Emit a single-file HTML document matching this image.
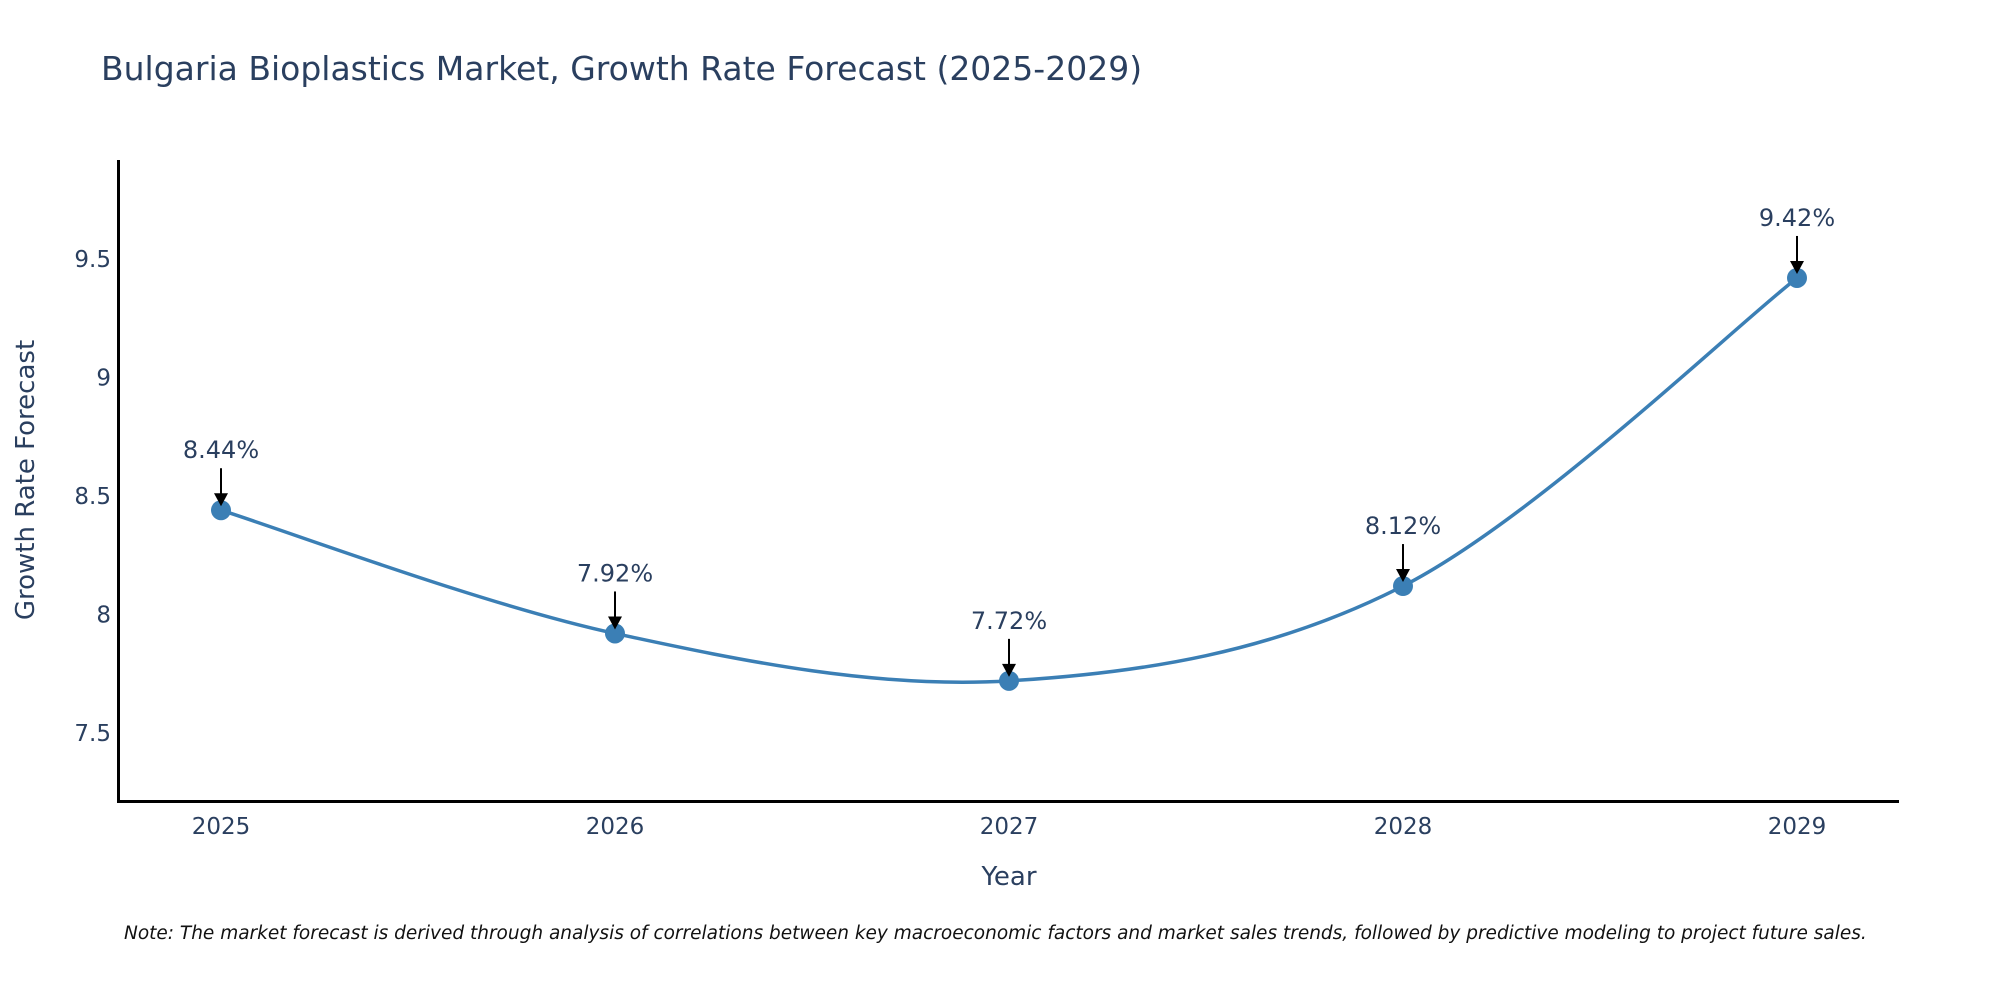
<!DOCTYPE html>
<html><head><meta charset="utf-8"><style>
body{margin:0;background:#fff;}
svg{display:block;font-family:"DejaVu Sans","Liberation Sans",sans-serif;}
</style></head><body>
<svg id="chart" width="2000" height="1000">
<text x="101" y="80" font-size="33" fill="#2a3f5f">Bulgaria Bioplastics Market, Growth Rate Forecast (2025-2029)</text>
<g id="yticks"></g><g id="xticks"></g>
<line x1="118.5" y1="160" x2="118.5" y2="802" stroke="#000" stroke-width="3"/>
<line x1="117" y1="801.5" x2="1899" y2="801.5" stroke="#000" stroke-width="3"/>
<path id="line" fill="none" stroke="#3b7fb5" stroke-width="3.5"/>
<g id="marks"></g>
<text transform="translate(34,480) rotate(-90)" text-anchor="middle" font-size="26" fill="#2a3f5f">Growth Rate Forecast</text>
<text x="1009" y="885" text-anchor="middle" font-size="26" fill="#2a3f5f">Year</text>
<text x="124" y="939" font-size="18.5" font-style="italic" fill="#111">Note: The market forecast is derived through analysis of correlations between key macroeconomic factors and market sales trends, followed by predictive modeling to project future sales.</text>
</svg>
<script>
const years=[2025,2026,2027,2028,2029];
const values=[8.44,7.92,7.72,8.12,9.42];
const labels=["8.44%","7.92%","7.72%","8.12%","9.42%"];
const yTicks=[7.5,8,8.5,9,9.5];
const yTickLabels=["7.5","8","8.5","9","9.5"];
const NS="http://www.w3.org/2000/svg";
const xs=y=>221+(y-2025)*394;
const ys=v=>733-(v-7.5)*237;
function mk(t,a,p){const e=document.createElementNS(NS,t);for(const k in a)e.setAttribute(k,a[k]);p.appendChild(e);return e;}
const yt=document.getElementById('yticks');
yTicks.forEach((v,i)=>{const t=mk('text',{x:111,y:ys(v)+8,'text-anchor':'end','font-size':23,fill:'#2a3f5f'},yt);t.textContent=yTickLabels[i];

});
const xt=document.getElementById('xticks');
years.forEach(y=>{const t=mk('text',{x:xs(y),y:834,'text-anchor':'middle','font-size':23,fill:'#2a3f5f'},xt);t.textContent=y;

});
const P=years.map((y,i)=>[xs(y),ys(values[i])]);
let d=`M${P[0][0]},${P[0][1]}`;
for(let i=0;i<P.length-1;i++){const p0=P[i-1]||P[i],p1=P[i],p2=P[i+1],p3=P[i+2]||P[i+1];
const c1=[p1[0]+(p2[0]-p0[0])/6,p1[1]+(p2[1]-p0[1])/6],c2=[p2[0]-(p3[0]-p1[0])/6,p2[1]-(p3[1]-p1[1])/6];
d+=` C${c1[0]},${c1[1]} ${c2[0]},${c2[1]} ${p2[0]},${p2[1]}`;}
document.getElementById('line').setAttribute('d',d);
const mg=document.getElementById('marks');
P.forEach((p,i)=>{
const c=mk('circle',{cx:p[0],cy:p[1],r:10,fill:'#3b7fb5'},mg);


const l=mk('line',{x1:p[0],y1:p[1]-42,x2:p[0],y2:p[1]-14,stroke:'#000','stroke-width':2},mg);


const h=mk('polygon',{points:`${p[0]-7},${p[1]-17} ${p[0]+7},${p[1]-17} ${p[0]},${p[1]-4}`,fill:'#000'},mg);


const t=mk('text',{x:p[0],y:p[1]-52,'text-anchor':'middle','font-size':24,fill:'#2a3f5f'},mg);t.textContent=labels[i];


});
</script>
</body></html>
